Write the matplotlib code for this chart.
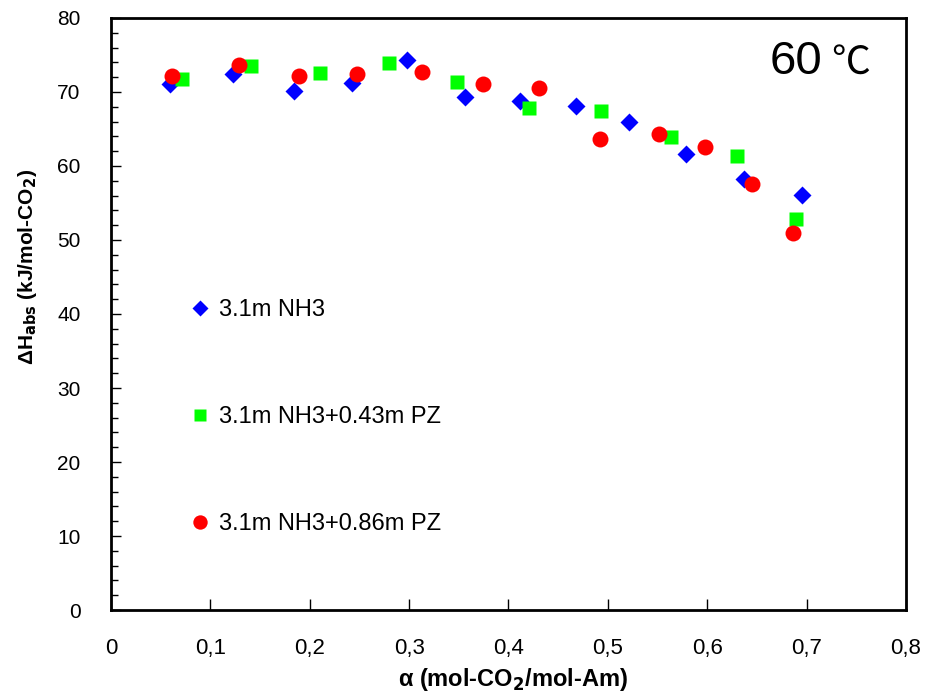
import matplotlib.pyplot as plt
from matplotlib.ticker import MultipleLocator, FixedLocator, FixedFormatter

plt.rcParams['font.family'] = ['Liberation Sans', 'DejaVu Sans']

# Data
alpha_nh3 = [0.059, 0.123, 0.184, 0.243, 0.298, 0.356, 0.412, 0.468, 0.521, 0.579, 0.637, 0.695]
dh_nh3 = [71.1, 72.4, 70.1, 71.2, 74.3, 69.3, 68.8, 68.1, 66.0, 61.6, 58.2, 56.1]

alpha_pz043 = [0.071, 0.141, 0.210, 0.280, 0.348, 0.421, 0.493, 0.564, 0.630, 0.689]
dh_pz043 = [71.8, 73.5, 72.5, 73.9, 71.3, 67.8, 67.4, 63.9, 61.3, 52.9]

alpha_pz086 = [0.061, 0.129, 0.189, 0.248, 0.313, 0.374, 0.431, 0.492, 0.552, 0.598, 0.645, 0.686]
dh_pz086 = [72.2, 73.6, 72.2, 72.4, 72.7, 71.1, 70.5, 63.7, 64.3, 62.5, 57.5, 51.0]

series_labels = ['3.1m NH3', '3.1m NH3+0.43m PZ', '3.1m NH3+0.86m PZ']
x_ticks = [0, 0.1, 0.2, 0.3, 0.4, 0.5, 0.6, 0.7, 0.8]
x_tick_labels = ['0', '0,1', '0,2', '0,3', '0,4', '0,5', '0,6', '0,7', '0,8']

fig = plt.figure(figsize=(9.38, 6.97), dpi=100)
ax = fig.add_axes([0.1183, 0.1248, 0.8475, 0.8494])

ax.plot(alpha_nh3, dh_nh3, linestyle='none', marker='D', ms=8.7,
        color='#0000FF', mec='none', label=series_labels[0])
ax.plot(alpha_pz043, dh_pz043, linestyle='none', marker='s', ms=10,
        color='#00FF00', mec='none', label=series_labels[1])
ax.plot(alpha_pz086, dh_pz086, linestyle='none', marker='o', ms=11.5,
        color='#FF0000', mec='none', label=series_labels[2])

ax.set_xlim(0, 0.8)
ax.set_ylim(0, 80)

ax.xaxis.set_major_locator(FixedLocator(x_ticks))
ax.xaxis.set_major_formatter(FixedFormatter(x_tick_labels))
ax.yaxis.set_major_locator(MultipleLocator(10))
ax.yaxis.set_minor_locator(MultipleLocator(2))

ax.tick_params(axis='x', which='major', direction='in', length=8, width=1,
               labelsize=16, pad=20, top=False)
ax.tick_params(axis='y', which='major', direction='in', length=7, width=1,
               labelsize=15, pad=22, right=False)
ax.tick_params(axis='y', which='minor', direction='in', length=5, width=1,
               right=False)

for sp in ax.spines.values():
    sp.set_linewidth(2)

ax.set_xlabel(r'α (mol-CO$_\mathbf{2}$/mol-Am)', fontsize=17, fontweight='bold')
ax.xaxis.set_label_coords(0.506, -0.095)
ax.set_ylabel(r'ΔH$_\mathbf{abs}$ (kJ/mol-CO$_\mathbf{2}$)', fontsize=15, fontweight='bold')
ax.yaxis.set_label_coords(-0.09, 0.58)

# temperature tag: digits and the full-width degree sign in separate fonts
ax.text(0.895, 0.925, '60', transform=ax.transAxes, fontsize=34,
        ha='right', va='center')
ax.text(0.906, 0.925, '℃', transform=ax.transAxes, fontsize=28,
        ha='left', va='center', family=['Noto Sans CJK JP', 'DejaVu Sans'])

ax.legend(loc='upper left', bbox_to_anchor=(0.085, 0.545), frameon=False,
          fontsize=17, labelspacing=3.6, handlelength=0.8, handletextpad=0.4,
          borderpad=0, markerscale=0.9)

fig.savefig('out.png', dpi=100)
